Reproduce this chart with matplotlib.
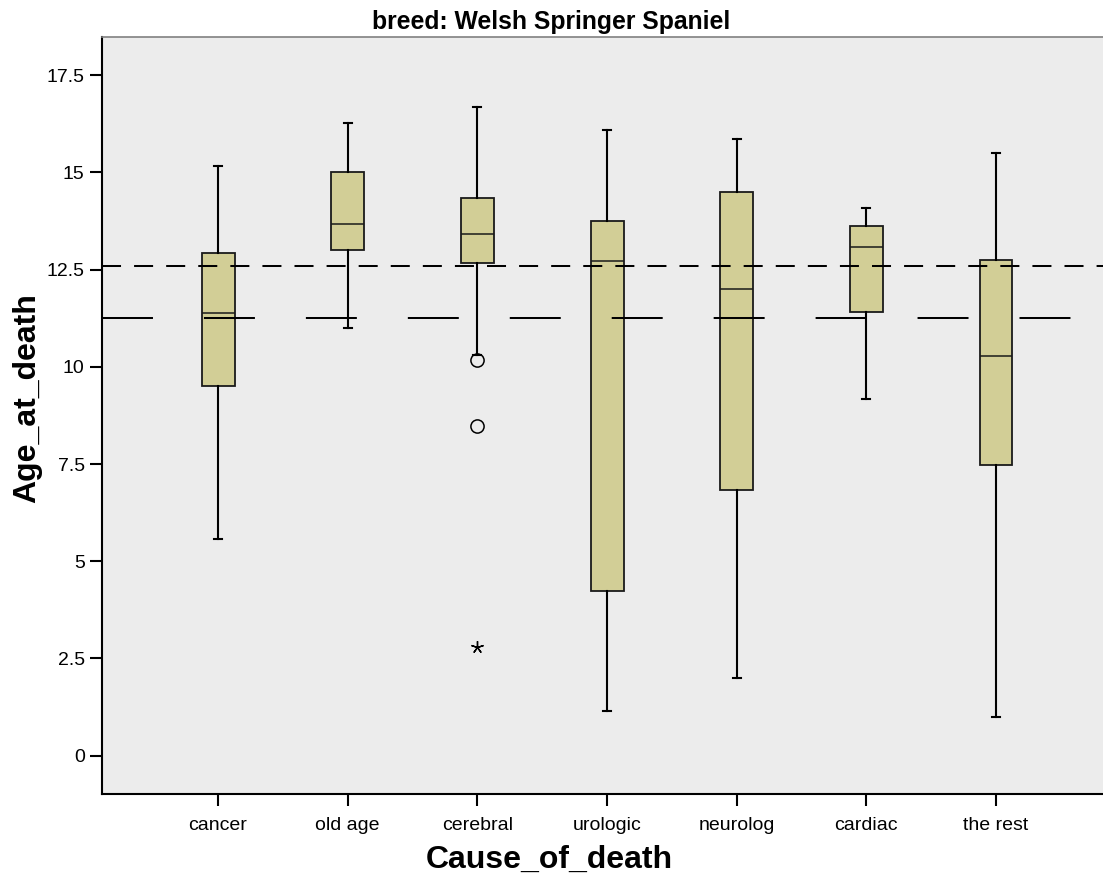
import matplotlib
matplotlib.use('Agg')
import matplotlib.pyplot as plt

plt.rcParams['font.family'] = ['Liberation Sans', 'DejaVu Sans']
plt.rcParams['lines.scale_dashes'] = False

# data
causes = ['cancer', 'old age', 'cerebral', 'urologic', 'neurolog', 'cardiac', 'the rest']
whislo = [5.57, 10.99, 10.30, 1.15, 1.99, 9.17, 1.00]
q1 = [9.50, 13.01, 12.67, 4.24, 6.84, 11.41, 7.47]
med = [11.38, 13.68, 13.42, 12.72, 12.00, 13.08, 10.29]
q3 = [12.92, 15.00, 14.34, 13.75, 14.50, 13.62, 12.75]
whishi = [15.17, 16.26, 16.68, 16.08, 15.85, 14.09, 15.51]
outliers = [[], [], [10.17, 8.49], [], [], [], []]
extremes = [[], [], [2.80], [], [], [], []]
ref_short = 12.59
ref_long = 11.26

yticks = [0, 2.5, 5, 7.5, 10, 12.5, 15, 17.5]
ytick_labels = ['0', '2.5', '5', '7.5', '10', '12.5', '15', '17.5']

W, H = 1103, 877
fig = plt.figure(figsize=(W / 100, H / 100), dpi=100)
ax = fig.add_axes([102 / W, 1 - 794 / H, 1 - 102 / W, (794 - 37) / H])
ax.set_facecolor('#ececec')

stats = []
for i in range(len(causes)):
    stats.append(dict(label=causes[i], whislo=whislo[i], q1=q1[i], med=med[i],
                      q3=q3[i], whishi=whishi[i], fliers=outliers[i]))

pos = list(range(len(causes)))
ax.bxp(stats, positions=pos, widths=0.254, capwidths=0.062, patch_artist=True,
       boxprops=dict(facecolor='#d2ce96', edgecolor='#1a1a1a', linewidth=1.3),
       medianprops=dict(color='#1a1a1a', linewidth=1.1),
       whiskerprops=dict(color='black', linewidth=1.5),
       capprops=dict(color='black', linewidth=1.5),
       flierprops=dict(marker='o', markerfacecolor='none', markeredgecolor='black',
                       markersize=9.5, markeredgewidth=1.1),
       zorder=2)

for i in range(len(causes)):
    if extremes[i]:
        ax.plot([pos[i]] * len(extremes[i]), extremes[i], linestyle='none',
                marker=(5, 2, 0), markersize=9, color='black', markeredgewidth=1.0, zorder=3)

ax.axhline(ref_short, color='black', linewidth=1.45, linestyle=(0, (13.7, 9.4)), zorder=4)
ax.axhline(ref_long, color='black', linewidth=1.45, linestyle=(0, (36.7, 36.7)), zorder=4)

ax.set_xlim(-0.895, (W - 218) / 129.67)
ax.set_ylim(-0.985, 18.48)
ax.set_yticks(yticks)
ax.set_yticklabels(ytick_labels)
ax.set_xticks(pos)
ax.set_xticklabels(causes)
ax.tick_params(axis='both', direction='out', length=8.5, width=1.5, labelsize=14,
               colors='black', pad=4)
ax.tick_params(axis='x', pad=8)

ax.spines['right'].set_visible(False)
ax.spines['top'].set_color('#808080')
ax.spines['top'].set_linewidth(1.2)
ax.spines['left'].set_linewidth(1.5)
ax.spines['bottom'].set_linewidth(1.5)

fig.text(35 / W, 1 - 503 / H, 'Age_at_death', rotation=90, rotation_mode='anchor',
         ha='left', va='baseline', fontsize=23, fontweight='bold')
fig.text(0.498, 1 - 868 / H, 'Cause_of_death', ha='center', va='baseline',
         fontsize=23, fontweight='bold')
fig.text(0.5, 1 - 29 / H, 'breed: Welsh Springer Spaniel', ha='center', va='baseline',
         fontsize=17.8, fontweight='bold')

fig.savefig('out.png', dpi=100)
